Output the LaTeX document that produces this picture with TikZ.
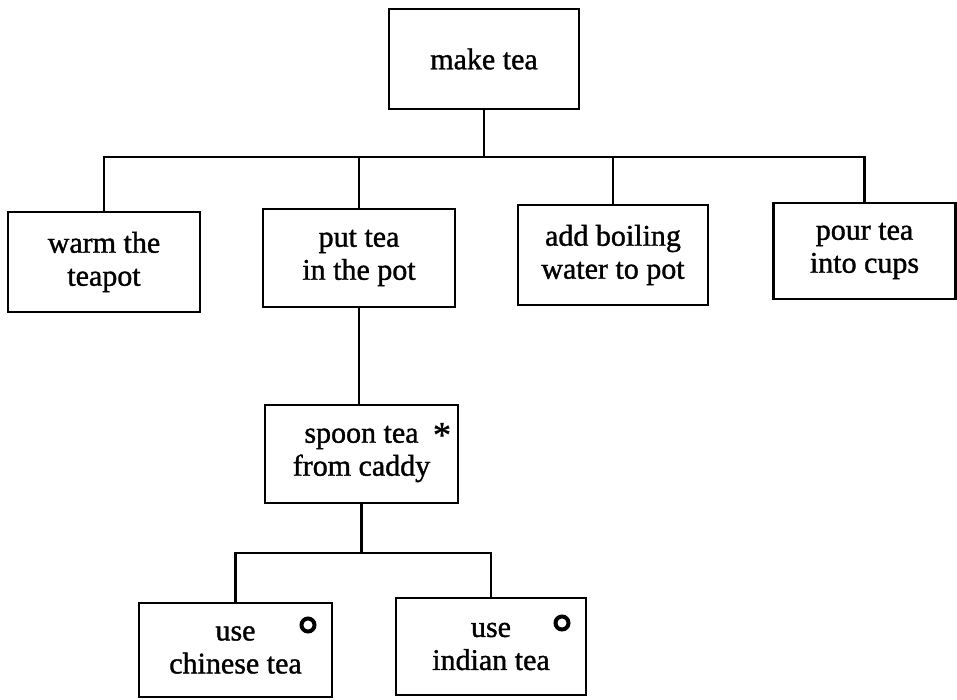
\documentclass[tikz,border=0pt]{standalone}
\usepackage{fontspec}
\setmainfont{Liberation Serif}[FakeBold=1.2]
\begin{document}
\begin{tikzpicture}[x=1pt,y=1pt,
  task/.style={draw, line width=2.4pt, align=center, inner sep=0pt,
    font=\fontsize{30}{33}\selectfont},
  link/.style={line width=2.4pt}]
\useasboundingbox (0,0) rectangle (957,699);
% tasks (image rows measured from the top, so y = 699 - row)
\node[task, minimum width=190pt, minimum height=100pt] (make) at (484,640) {make tea};
\node[task, minimum width=192pt, minimum height=100pt] (warm) at (104,437) {warm the\\teapot};
\node[task, minimum width=192pt, minimum height=98pt] (put) at (359,441) {put tea\\in the pot};
\node[task, minimum width=190pt, minimum height=100pt] (add) at (613,444) {add boiling\\water to pot};
\node[task, minimum width=182pt, minimum height=96pt] (pour) at (864.5,448) {pour tea\\into cups};
\node[task, minimum width=193pt, minimum height=98pt] (spoon) at (361.5,245) {spoon tea\\from caddy};
\node[task, minimum width=193pt, minimum height=94pt] (chinese) at (235.5,49) {use\\chinese tea};
\node[task, minimum width=190pt, minimum height=97pt] (indian) at (491,52.5) {use\\indian tea};
% markers: iteration and selection
\node[font=\fontsize{36}{36}\selectfont, inner sep=0pt] (star) at (442,264) {*};
\draw[line width=4pt] (308,74) circle (6.5pt) coordinate (selA);
\draw[line width=4pt] (562,76) circle (6.5pt) coordinate (selB);
% first level bus
\coordinate (busA) at (0,542);
\draw[link] (make.south) -- (make.south |- busA);
\draw[link] (warm.north) -- (warm.north |- busA) -- (pour.north |- busA) -- (pour.north);
\draw[link] (put.north) -- (put.north |- busA);
\draw[link] (add.north) -- (add.north |- busA);
% second level
\draw[link] (put.south) -- (put.south |- spoon.north);
\coordinate (busB) at (0,146);
\draw[link] (spoon.south) -- (spoon.south |- busB);
\draw[link] (chinese.north) -- (chinese.north |- busB) -- (indian.north |- busB) -- (indian.north);
\end{tikzpicture}
\end{document}
